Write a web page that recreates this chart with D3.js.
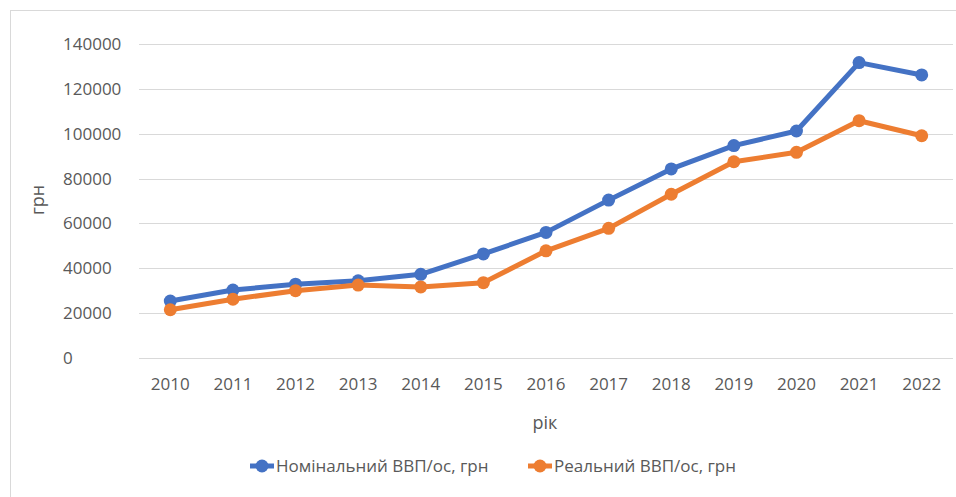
<!DOCTYPE html>
<html><head><meta charset="utf-8">
<script src="https://cdn.jsdelivr.net/npm/d3@7"></script>
<style>body{margin:0;background:#fff}svg{display:block}text{font-family:"Open Sans",sans-serif;fill:#595959}</style>
</head><body><svg id="c" width="956" height="497"></svg>
<script>
const years = ["2010","2011","2012","2013","2014","2015","2016","2017","2018","2019","2020","2021","2022"];
const nominal = [25400,30300,32900,34400,37300,46400,56000,70400,84300,94700,101200,131700,126200];
const real = [21500,26200,30000,32500,31700,33600,47800,57800,73000,87500,91700,105800,99100];
const yTicks = [0,20000,40000,60000,80000,100000,120000,140000];
const seriesNames = ["Номінальний ВВП/ос, грн","Реальний ВВП/ос, грн"];
const colors = ["#4472C4","#ED7D31"];

const svg = d3.select("#c");
svg.append("rect").attr("x",10.5).attr("y",10.5).attr("width",980).attr("height",500).attr("fill","#fff").attr("stroke","#d9d9d9");

const x = d3.scaleBand().domain(years).range([139,953]);
const y = d3.scaleLinear().domain([0,140000]).range([358,44]);

const grid = svg.append("g");
yTicks.forEach(t=>{
  grid.append("line").attr("x1",139).attr("x2",953).attr("y1",Math.round(y(t))+0.5).attr("y2",Math.round(y(t))+0.5).attr("stroke","#d9d9d9").attr("stroke-width",1);
  svg.append("text").attr("x",63).attr("y",y(t)).attr("dy","0.35em").attr("font-size",17).text(t);
});
years.forEach(yr=>{
  svg.append("text").attr("x",x(yr)+x.bandwidth()/2).attr("y",384).attr("dy","0.35em").attr("text-anchor","middle").attr("font-size",17).text(yr);
});

svg.append("text").attr("transform","translate(38,200) rotate(-90)").attr("text-anchor","middle").attr("dy","0.35em").attr("font-size",18).text("грн");
svg.append("text").attr("x",545).attr("y",423).attr("text-anchor","middle").attr("dy","0.35em").attr("font-size",18).text("рік");

const line = d3.line().x((d,i)=>x(years[i])+x.bandwidth()/2).y(d=>y(d));
[nominal, real].forEach((s,k)=>{
  svg.append("path").datum(s).attr("d",line).attr("fill","none").attr("stroke",colors[k]).attr("stroke-width",5).attr("stroke-linejoin","round");
  svg.append("g").selectAll("circle").data(s).join("circle")
    .attr("cx",(d,i)=>x(years[i])+x.bandwidth()/2).attr("cy",d=>y(d)).attr("r",6.5).attr("fill",colors[k]);
});

const legX = [262,540];
seriesNames.forEach((n,k)=>{
  const g = svg.append("g").attr("transform",`translate(${legX[k]},466)`);
  g.append("line").attr("x1",-12).attr("x2",12).attr("stroke",colors[k]).attr("stroke-width",5);
  g.append("circle").attr("r",6.5).attr("fill",colors[k]);
  g.append("text").attr("x",14).attr("dy","0.35em").attr("font-size",17).text(n);
});
</script></body></html>
